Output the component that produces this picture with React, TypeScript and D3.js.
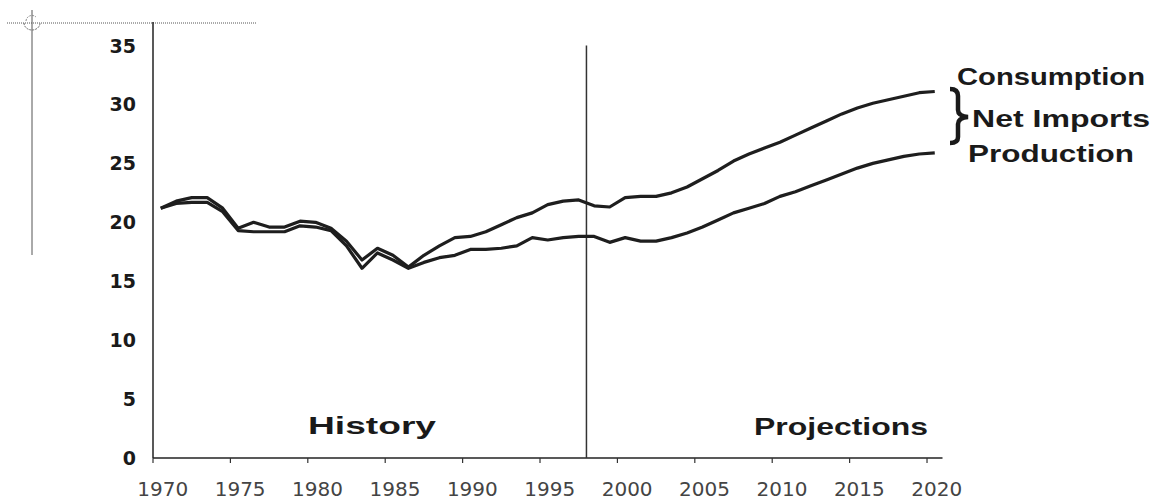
import React from "react";
import * as d3 from "d3";

const years: number[] = d3.range(1970, 2021);

const consumption: number[] = [
  21.2, 21.8, 22.1, 22.1, 21.2, 19.5, 20.0, 19.6, 19.6, 20.1,
  20.0, 19.5, 18.4, 16.8, 17.8, 17.2, 16.2, 17.2, 18.0, 18.7,
  18.8, 19.2, 19.8, 20.4, 20.8, 21.5, 21.8, 21.9, 21.4, 21.3,
  22.1, 22.2, 22.2, 22.5, 23.0, 23.7, 24.4, 25.2, 25.8, 26.3,
  26.8, 27.4, 28.0, 28.6, 29.2, 29.7, 30.1, 30.4, 30.7, 31.0,
  31.1,
];

const production: number[] = [
  21.2, 21.6, 21.7, 21.7, 20.9, 19.3, 19.2, 19.2, 19.2, 19.7,
  19.6, 19.3, 18.0, 16.1, 17.4, 16.8, 16.1, 16.6, 17.0, 17.2,
  17.7, 17.7, 17.8, 18.0, 18.7, 18.5, 18.7, 18.8, 18.8, 18.3,
  18.7, 18.4, 18.4, 18.7, 19.1, 19.6, 20.2, 20.8, 21.2, 21.6,
  22.2, 22.6, 23.1, 23.6, 24.1, 24.6, 25.0, 25.3, 25.6, 25.8,
  25.9,
];

const yTicks: number[] = [0, 5, 10, 15, 20, 25, 30, 35];
const xTickYears: number[] = [1970, 1975, 1980, 1985, 1990, 1995, 2000, 2005, 2010, 2015, 2020];
const lastHistoryYear = 1998;

const W = 1162;
const H = 501;
const FONT = "'DejaVu Sans', Verdana, sans-serif";
const LABEL_FONT = "'Liberation Sans', Arial, sans-serif";

export default function App() {
  const x = d3.scaleBand<number>().domain(years).range([153, 942.5]).padding(0);
  const y = d3.scaleLinear().domain([0, 37]).range([458, 22]);
  const cx = (yr: number) => (x(yr) as number) + x.bandwidth() / 2;

  const line = d3
    .line<number>()
    .x((_, i) => cx(years[i]))
    .y((d) => y(d));

  const x0 = x.range()[0];
  const x1 = x.range()[1];
  const y0 = y(0);
  const divX = x(lastHistoryYear) as number;

  const lbl = {
    fontFamily: LABEL_FONT,
    fontWeight: "bold" as const,
    fill: "#1a1a1a",
    lengthAdjust: "spacingAndGlyphs" as const,
  };

  return (
    <svg
      width={W}
      height={H}
      style={{ position: "absolute", left: 0, top: 0, background: "#fff" }}
      fontFamily={FONT}
    >
      {/* scan registration marks */}
      <line x1={7} x2={256} y1={23} y2={23} stroke="#555" strokeWidth={1} strokeDasharray="1 1" />
      <line x1={32} x2={32} y1={10} y2={255} stroke="#555" strokeWidth={1} />
      <path d="M 24 23 A 8 7 0 0 0 40 23" fill="none" stroke="#666" strokeWidth={1} strokeDasharray="2 1" />
      <path d="M 26 21 A 6 6 0 0 1 36 17" fill="none" stroke="#888" strokeWidth={1} strokeDasharray="2 1" />

      {/* axes */}
      <line x1={x0} x2={x0} y1={y(37)} y2={y0} stroke="#222" strokeWidth={1.5} />
      <line x1={x0} x2={x1} y1={y0} y2={y0} stroke="#222" strokeWidth={1.5} />
      {xTickYears.map((yr) => (
        <line
          key={"t" + yr}
          x1={x(yr) as number}
          x2={x(yr) as number}
          y1={y0}
          y2={y0 + 5}
          stroke="#333"
          strokeWidth={1.2}
        />
      ))}
      {xTickYears.map((yr) => (
        <text
          key={"l" + yr}
          x={cx(yr) + 2}
          y={496}
          textAnchor="middle"
          fontSize={20}
          fill="#444"
        >
          {yr}
        </text>
      ))}
      {yTicks.map((v) => (
        <text
          key={"y" + v}
          x={136}
          y={y(v) + 7}
          textAnchor="end"
          fontSize={19}
          fontWeight="bold"
          fill="#1a1a1a"
        >
          {v}
        </text>
      ))}

      {/* history / projections divider */}
      <line x1={divX} x2={divX} y1={y(35)} y2={y0} stroke="#333" strokeWidth={1.5} />

      {/* series */}
      <path d={line(consumption) || ""} fill="none" stroke="#1e1e1e" strokeWidth={3.2} strokeLinejoin="round" />
      <path d={line(production) || ""} fill="none" stroke="#1e1e1e" strokeWidth={3.2} strokeLinejoin="round" />

      {/* annotations */}
      <text x={308} y={434} fontSize={24} textLength={128} {...lbl}>
        History
      </text>
      <text x={754} y={435} fontSize={24} textLength={174} {...lbl}>
        Projections
      </text>

      <text x={957} y={85} fontSize={23} textLength={188} {...lbl}>
        Consumption
      </text>
      <path
        d="M 950 89 Q 958 89 958 96 L 958 110 Q 958 116 968 117 Q 958 118 958 124 L 958 137 Q 958 143 950 143"
        fill="none"
        stroke="#1a1a1a"
        strokeWidth={4.5}
      />
      <text x={972} y={127} fontSize={23} textLength={178} {...lbl}>
        Net Imports
      </text>
      <text x={968} y={162} fontSize={23} textLength={166} {...lbl}>
        Production
      </text>
    </svg>
  );
}
